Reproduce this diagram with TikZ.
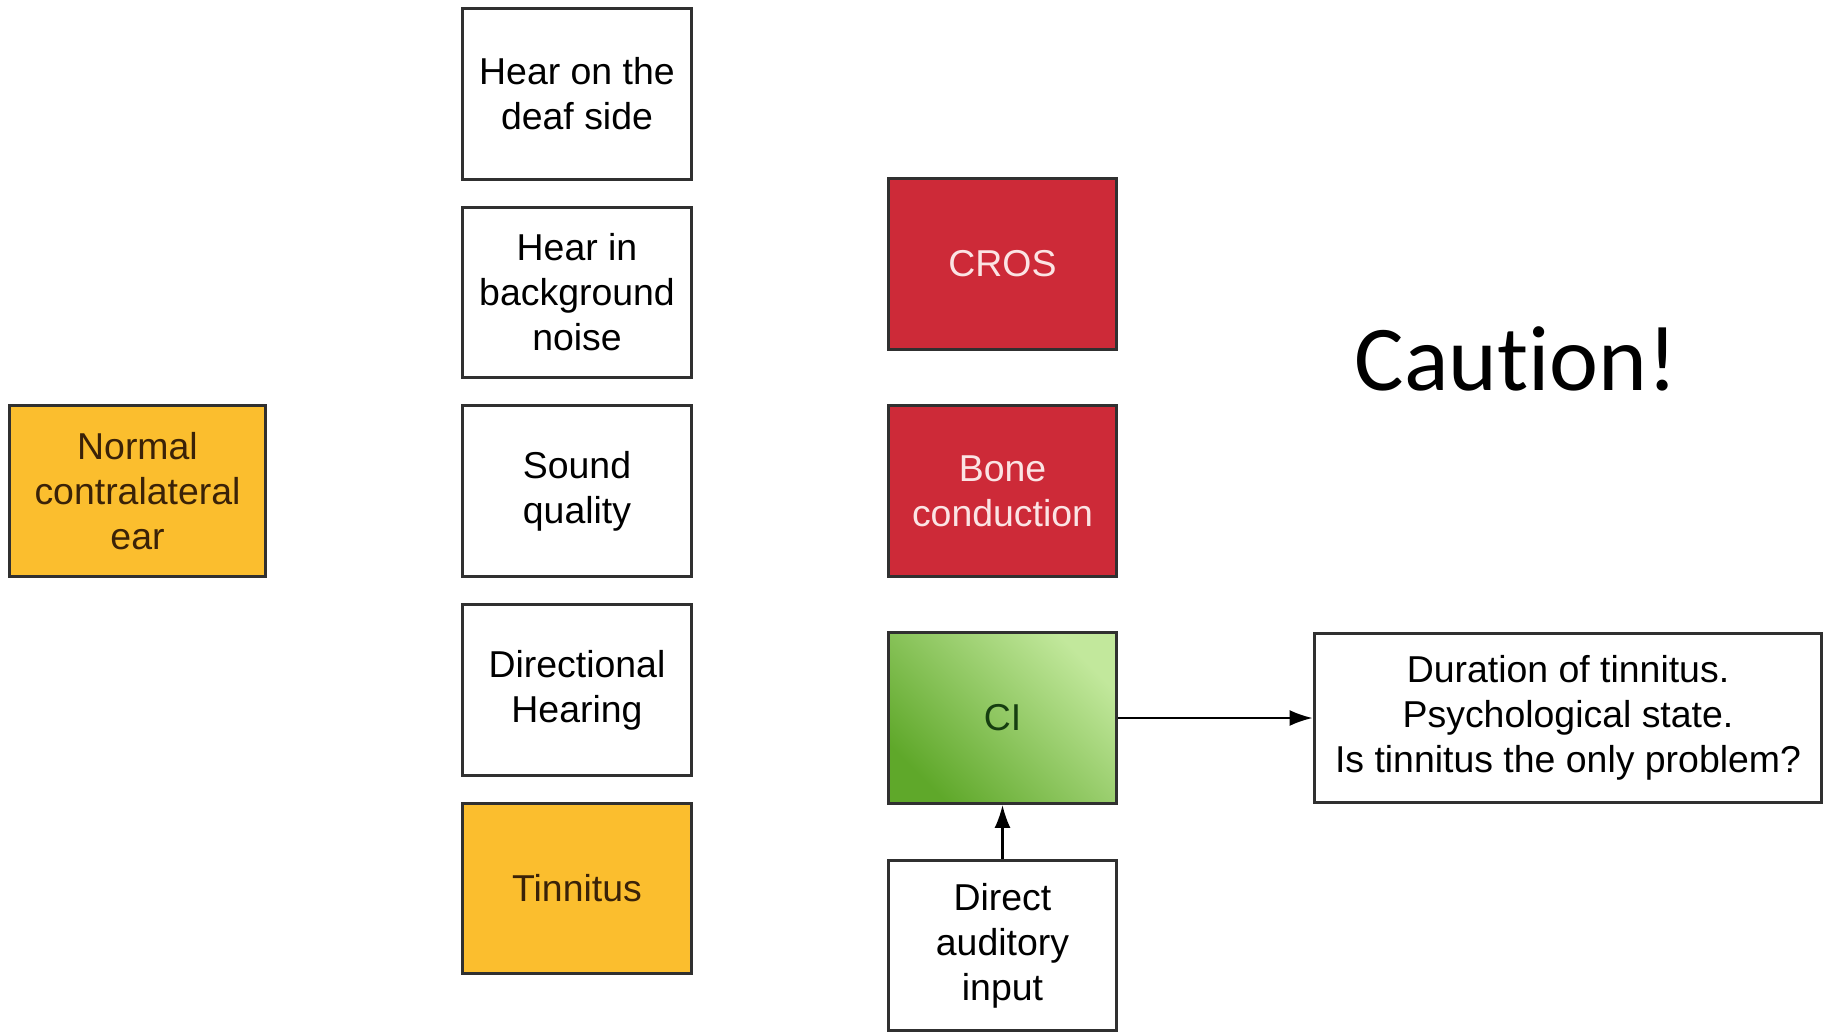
\documentclass[tikz,border=0pt]{standalone}
\usepackage{fontspec}
\setmainfont{Liberation Sans}
\newfontfamily\cautionfont{Carlito}
\usetikzlibrary{positioning,arrows.meta}
\definecolor{boxline}{HTML}{303030}
\definecolor{warmfill}{HTML}{FBBE2E}
\definecolor{warmtext}{HTML}{3A2208}
\definecolor{alertfill}{HTML}{CD2A38}
\definecolor{alerttext}{HTML}{FBE4E4}
\definecolor{cilight}{HTML}{C2E89C}
\definecolor{cidark}{HTML}{5FA82A}
\definecolor{citext}{HTML}{163E10}
\tikzset{
  box/.style={draw=boxline, line width=1.7pt, fill=white, minimum width=4.6cm,
    minimum height=3.42cm, align=center, inner sep=0pt,
    font=\fontsize{21.3}{25.6}\selectfont},
  warm/.style={box, fill=warmfill, text=warmtext},
  alert/.style={box, fill=alertfill, text=alerttext},
  implant/.style={box, top color=cilight, bottom color=cidark, shading angle=-45, text=citext},
  link/.style={-{Latex[length=0.46cm,width=0.32cm]}, line width=1.2pt, draw=black}
}
\begin{document}
\begin{tikzpicture}[x=0.02cm,y=-0.02cm]
            \useasboundingbox (0,0) rectangle (1826,1034);
            % Lato sinistro
            \node[warm, minimum width=5.14cm] (ear) at (137.5,491) {Normal\\contralateral\\ear};
            % Benefici
            \node[box] (deaf) at (577,94) {Hear on the\\deaf side};
            \node[box] (noise) at (577,292.5) {Hear in\\background\\noise};
            \node[box] (quality) at (577,491) {Sound\\quality};
            \node[box] (direction) at (577,690) {Directional\\Hearing};
            \node[warm] (tinnitus) at (577,888.5) {Tinnitus};
            % Dispositivi
            \node[alert, minimum width=4.58cm] (cros) at (1002.5,264) {CROS};
            \node[alert, minimum width=4.58cm] (bone) at (1002.5,491) {Bone\\conduction};
            \node[implant, minimum width=4.58cm] (ci) at (1002.5,718) {CI};
            \node[box, minimum width=4.58cm] (direct) at (1002.5,945.5) {Direct\\auditory\\input};
            % Avvertenze
            \node[box, minimum width=10.16cm, minimum height=3.38cm] (questions) at (1568,718)
              {Duration of tinnitus.\\Psychological state.\\Is tinnitus the only problem?};
            \node[anchor=base, font=\cautionfont\fontsize{52.8}{60}\selectfont] (caution) at (1516,390) {Cau\hbox{t}ion!};
            % Frecce
            \draw[link] (ci) -- (questions);
            \draw[link] (direct) -- (ci);
        \end{tikzpicture}
\end{document}
